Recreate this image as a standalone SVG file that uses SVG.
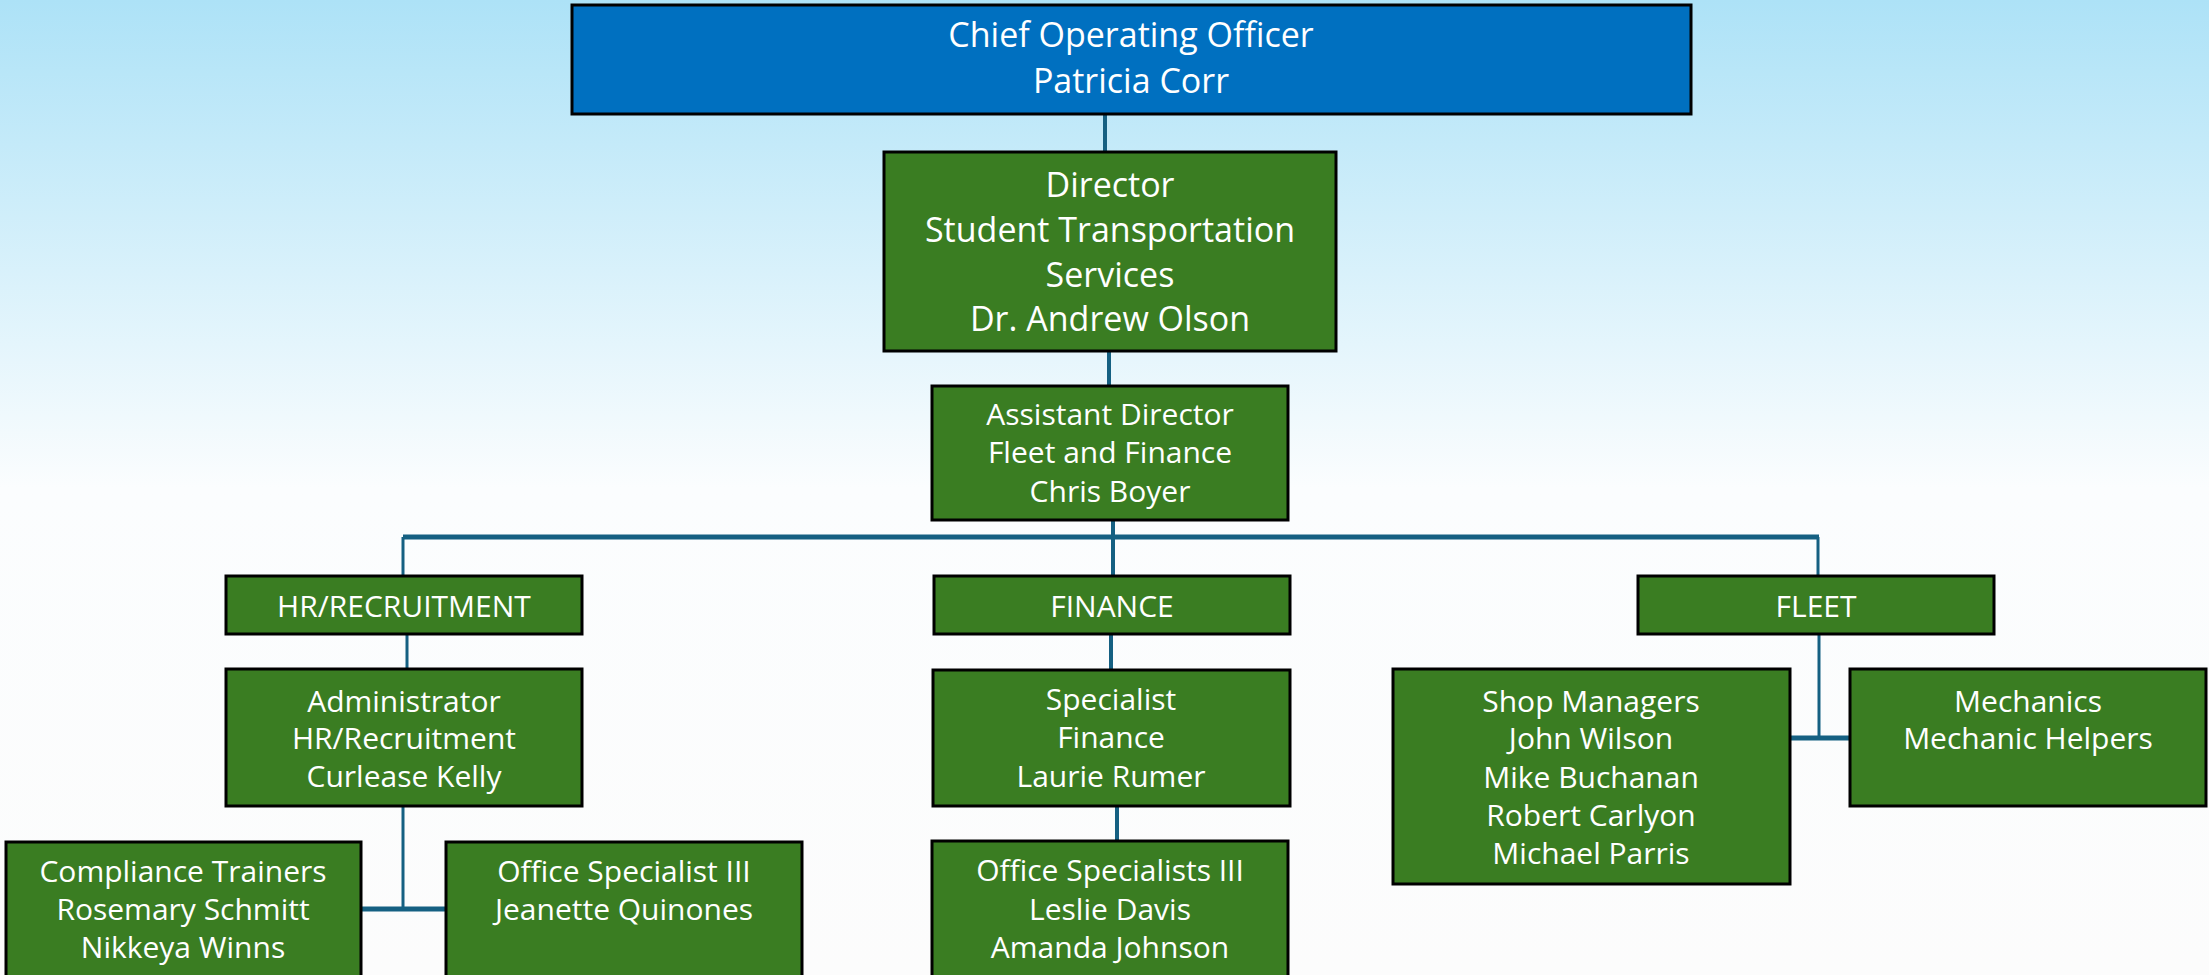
<svg xmlns="http://www.w3.org/2000/svg" width="2209" height="975" viewBox="0 0 2209 975">
<defs>
<linearGradient id="bg" x1="0" y1="0" x2="0" y2="1">
<stop offset="0" stop-color="#ADE2F7"/>
<stop offset="0.5" stop-color="#FBFDFE"/>
<stop offset="1" stop-color="#FCFCFC"/>
</linearGradient>
<style>
.box{fill:#3A7D22;stroke:#000;stroke-width:3}
.blue{fill:#0070C0;stroke:#000;stroke-width:3}
.t{font-family:"Open Sans","Liberation Sans",sans-serif;fill:#fff;text-anchor:middle;font-size:30px}
.tl{font-family:"Open Sans","Liberation Sans",sans-serif;fill:#fff;text-anchor:middle;font-size:34px}
.c{stroke:#156082;stroke-width:4;fill:none}
.cb{stroke:#156082;stroke-width:5;fill:none}
.ct{stroke:#156082;stroke-width:3;fill:none}
</style>
</defs>
<rect x="0" y="0" width="2209" height="975" fill="url(#bg)"/>
<g id="connectors">
<line class="c" x1="1105" y1="114" x2="1105" y2="152"/>
<line class="c" x1="1109" y1="351" x2="1109" y2="386"/>
<line class="c" x1="1113" y1="520" x2="1113" y2="576"/>
<line class="cb" x1="403" y1="537" x2="1819" y2="537"/>
<line class="ct" x1="403" y1="537" x2="403" y2="576"/>
<line class="ct" x1="1818" y1="537" x2="1818" y2="576"/>
<line class="ct" x1="407" y1="634" x2="407" y2="669"/>
<line class="ct" x1="403" y1="806" x2="403" y2="909"/>
<line class="cb" x1="358" y1="909" x2="448" y2="909"/>
<line class="c" x1="1111" y1="634" x2="1111" y2="670"/>
<line class="c" x1="1117" y1="806" x2="1117" y2="841"/>
<line class="ct" x1="1819" y1="634" x2="1819" y2="738"/>
<line class="cb" x1="1790" y1="738" x2="1852" y2="738"/>
</g>
<g id="coo">
<rect class="blue" x="572" y="5" width="1119" height="109"/>
<text class="tl" x="1131" y="47">Chief Operating Officer</text>
<text class="tl" x="1131" y="93">Patricia Corr</text>
</g>
<g id="director">
<rect class="box" x="884" y="152" width="452" height="199"/>
<text class="tl" x="1110" y="197">Director</text>
<text class="tl" x="1110" y="242">Student Transportation</text>
<text class="tl" x="1110" y="287">Services</text>
<text class="tl" x="1110" y="331">Dr. Andrew Olson</text>
</g>
<g id="assistant-director">
<rect class="box" x="932" y="386" width="356" height="134"/>
<text class="t" x="1110" y="425">Assistant Director</text>
<text class="t" x="1110" y="463">Fleet and Finance</text>
<text class="t" x="1110" y="502">Chris Boyer</text>
</g>
<g id="hr">
<rect class="box" x="226" y="576" width="356" height="58"/>
<text class="t" x="404" y="617">HR/RECRUITMENT</text>
</g>
<g id="finance">
<rect class="box" x="934" y="576" width="356" height="58"/>
<text class="t" x="1112" y="617">FINANCE</text>
</g>
<g id="fleet">
<rect class="box" x="1638" y="576" width="356" height="58"/>
<text class="t" x="1816" y="617">FLEET</text>
</g>
<g id="administrator">
<rect class="box" x="226" y="669" width="356" height="137"/>
<text class="t" x="404" y="712">Administrator</text>
<text class="t" x="404" y="749">HR/Recruitment</text>
<text class="t" x="404" y="787">Curlease Kelly</text>
</g>
<g id="specialist">
<rect class="box" x="933" y="670" width="357" height="136"/>
<text class="t" x="1111" y="710">Specialist</text>
<text class="t" x="1111" y="748">Finance</text>
<text class="t" x="1111" y="787">Laurie Rumer</text>
</g>
<g id="shop-managers">
<rect class="box" x="1393" y="669" width="397" height="215"/>
<text class="t" x="1591" y="712">Shop Managers</text>
<text class="t" x="1591" y="749">John Wilson</text>
<text class="t" x="1591" y="788">Mike Buchanan</text>
<text class="t" x="1591" y="826">Robert Carlyon</text>
<text class="t" x="1591" y="864">Michael Parris</text>
</g>
<g id="mechanics">
<rect class="box" x="1850" y="669" width="356" height="137"/>
<text class="t" x="2028" y="712">Mechanics</text>
<text class="t" x="2028" y="749">Mechanic Helpers</text>
</g>
<g id="compliance">
<rect class="box" x="6" y="842" width="355" height="150"/>
<text class="t" x="183" y="882">Compliance Trainers</text>
<text class="t" x="183" y="920">Rosemary Schmitt</text>
<text class="t" x="183" y="958">Nikkeya Winns</text>
</g>
<g id="office-specialist">
<rect class="box" x="446" y="842" width="356" height="150"/>
<text class="t" x="624" y="882">Office Specialist III</text>
<text class="t" x="624" y="920">Jeanette Quinones</text>
</g>
<g id="office-specialists">
<rect class="box" x="932" y="841" width="356" height="150"/>
<text class="t" x="1110" y="881">Office Specialists III</text>
<text class="t" x="1110" y="920">Leslie Davis</text>
<text class="t" x="1110" y="958">Amanda Johnson</text>
</g>
</svg>
